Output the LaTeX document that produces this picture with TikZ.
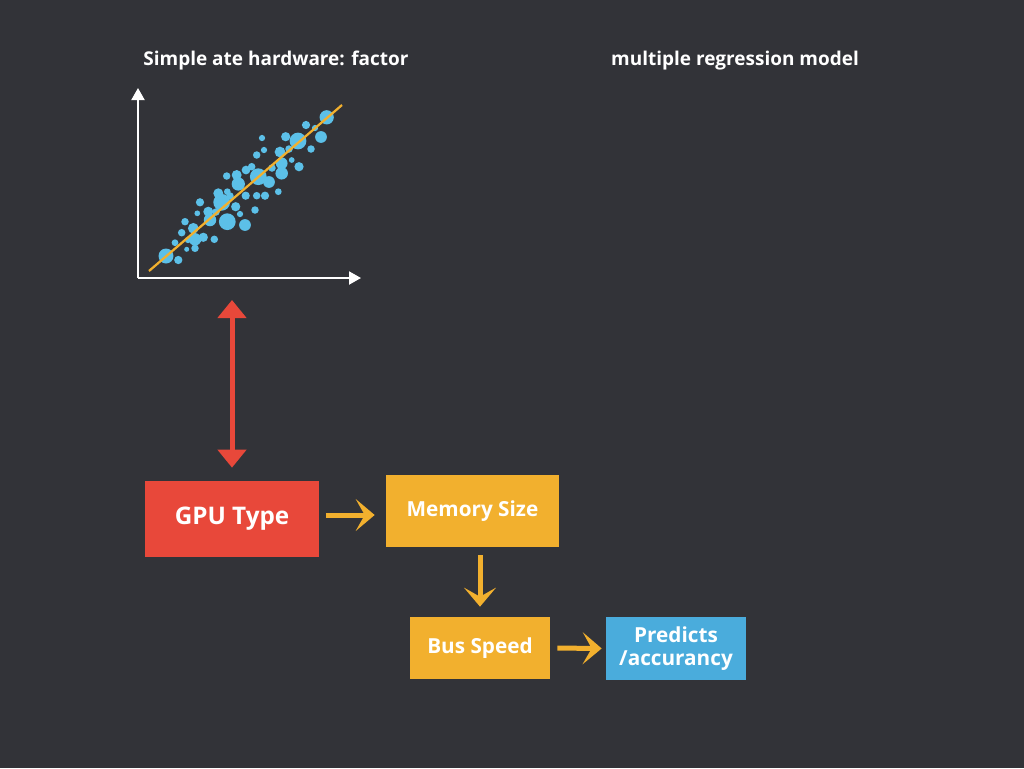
\documentclass[tikz,border=0pt]{standalone}
\usepackage{fontspec}
\setmainfont{Open Sans}
\usepackage{tikz}
\usetikzlibrary{
    arrows.meta,
    calc,
    positioning,
    shapes,
}
\definecolor{MyBG}{RGB}{50,51,56}
\definecolor{MyRed}{RGB}{232,72,58}
\definecolor{MyYellow}{RGB}{242,176,46}
\definecolor{MyBlue}{RGB}{74,172,220}
\definecolor{MyDot}{RGB}{92,192,232}
\tikzstyle{factor}=[rectangle,text=white,inner sep=0mm,align=center,font=\bfseries]
\tikzstyle{title}=[text=white,inner sep=0mm,font=\bfseries\fontsize{10.8}{12}\selectfont]
\tikzstyle{flow}=[-{Stealth[length=3.8mm,width=6.4mm,inset=1.8mm]},MyYellow,line width=1mm]
\tikzstyle{axis}=[-{Triangle[length=2.4mm,width=2.6mm]},white,line width=.4mm]
\tikzset{
    >=latex
}

\begin{document}
\begin{tikzpicture}[x=0.02cm,y=-0.02cm]
    \fill[MyBG] (0,0) rectangle (1024,768);
    \useasboundingbox (0,0) rectangle (1024,768);

    % Titles
    \node[title] (simple title) at (276,61) {Simple ate hardware: factor};
    \node[title] (multi title) at (735,61) {multiple regression model};

    % Scatter plot
    \coordinate (origin) at (138,278);
    \draw[axis] (origin) -- (138,88);
    \draw[axis] (origin) -- (361,278);
    \foreach \x/\y/\r in {
        326.7/117.3/5.7, 298/141/6.7, 321/137/4.7, 285.7/136.7/3.7, 306/125/3.3,
        311/149/3, 280/152/4.3, 256.7/155/3, 281.7/163.3/4.7, 299/166.7/3.7,
        291.7/160/2.3, 258.3/176.7/6.7, 281.7/173.3/5, 269/182/4.7, 251.7/166.7/3,
        236.7/175/4, 226.7/176/3, 238.3/184/5.3, 278.3/191.7/2.7, 265/195.7/3.3,
        256.7/195.7/3, 245.7/195.7/3.3, 218.3/193.3/4, 227.3/191.7/2.7, 200/202.3/3.3,
        221.7/202.3/6.7, 235.7/206.7/3.7, 255/210/3, 208.3/211.7/4, 197.3/213.3/2.3,
        210/220/5, 227.3/221.7/6.7, 245/225/4.7, 185/221.7/3, 193.3/228.3/4.3,
        181.7/232.7/3, 203.3/237.3/3.7, 195/239.3/5, 214.3/239.3/3, 175/242.7/2.7,
        195/248.3/3, 186.7/249.3/2, 166/256/6, 178.3/260/3.3,
        264/150/2.5, 289/149/3, 272/168/3, 246/170/3.5, 230/196/3,
        216/212/3, 240/214/2.5, 188/240/2.5, 262/138/2.5, 315/128/2.5}
        \fill[MyDot] (\x,\y) circle[radius=\r*0.025cm];
    \draw[MyYellow,line width=.45mm] (149,271) -- (342,105);

    % Factors
    \node[factor,fill=MyRed,minimum width=3.5cm,minimum height=1.52cm,font=\bfseries\fontsize{13.8}{15}\selectfont] (GPU Type) at (232,519) {GPU Type};
    \node[factor,fill=MyYellow,minimum width=3.46cm,minimum height=1.44cm,font=\bfseries\fontsize{11.8}{13}\selectfont] (Memory Size) at (472.5,511) {Memory Size};
    \node[factor,fill=MyYellow,minimum width=2.8cm,minimum height=1.24cm,font=\bfseries\fontsize{11.8}{13}\selectfont] (Bus Speed) at (480,648) {Bus Speed};
    \node[factor,fill=MyBlue,minimum width=2.8cm,minimum height=1.26cm,font=\bfseries\fontsize{11.8}{13.5}\selectfont] (Predicts) at (676,648.5) {Predicts\\/accurancy};

    \draw[{Triangle[length=3.6mm,width=5.6mm]}-{Triangle[length=3.6mm,width=5.6mm]},MyRed,line width=1mm,shorten <=2.6mm,shorten >=4.4mm] (GPU Type.north) -- (GPU Type.north |- origin);
    \draw[flow,shorten <=1.2mm,shorten >=2.2mm] ([yshift=0.08cm]GPU Type.east) -- ([yshift=0.08cm]GPU Type.east -| Memory Size.west);
    \draw[flow,shorten <=1.6mm,shorten >=2mm] (Bus Speed.north |- Memory Size.south) -- (Bus Speed.north);
    \draw[flow,shorten <=1.4mm,shorten >=0.8mm] (Bus Speed.east) -- (Predicts.west);
\end{tikzpicture}
\end{document}
